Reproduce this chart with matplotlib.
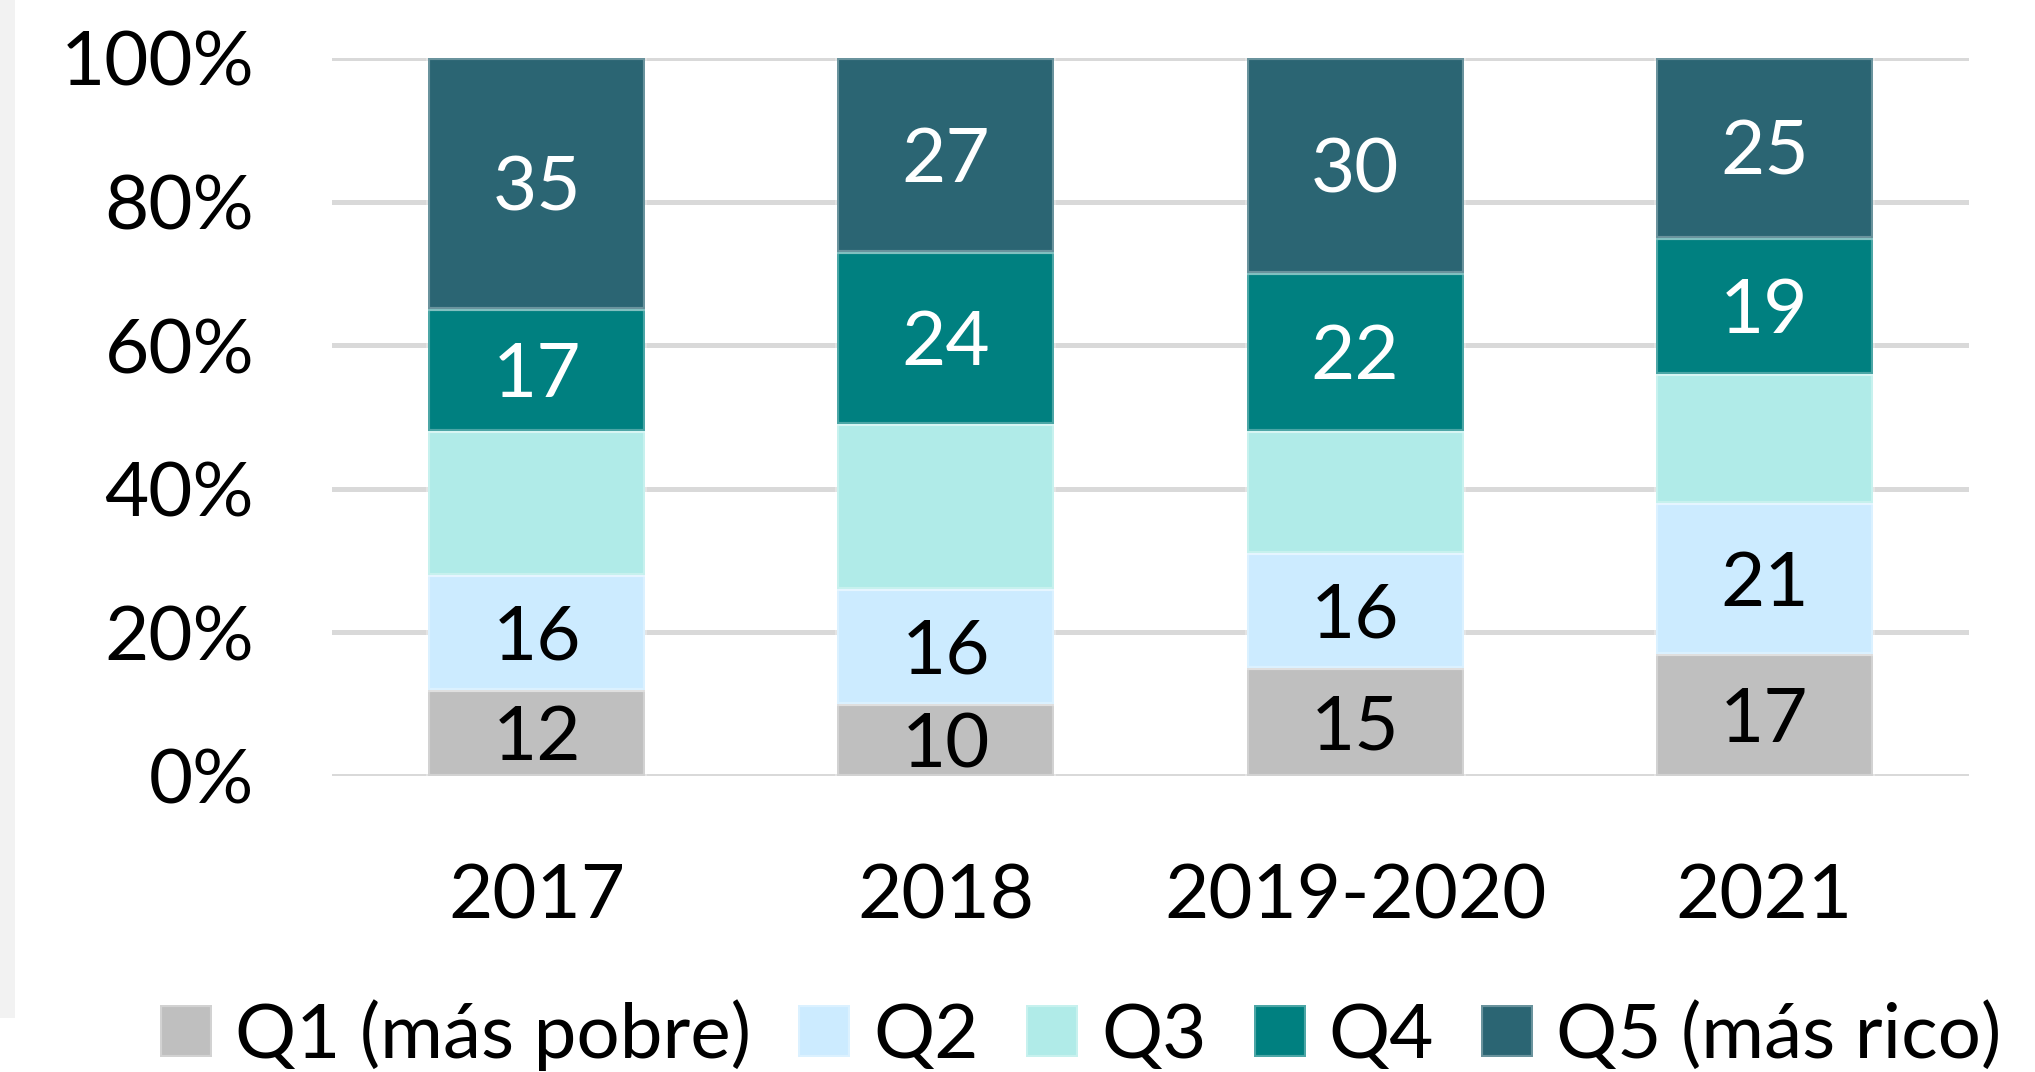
import numpy as np
import matplotlib.pyplot as plt
from matplotlib.patches import Rectangle

plt.rcParams['font.family'] = ['Lato', 'DejaVu Sans']

years = ['2017', '2018', '2019-2020', '2021']
series = ['Q1 (más pobre)', 'Q2', 'Q3', 'Q4', 'Q5 (más rico)']
q1 = [12, 10, 15, 17]
q2 = [16, 16, 16, 21]
q3 = [20, 23, 17, 18]
q4 = [17, 24, 22, 19]
q5 = [35, 27, 30, 25]
shown = [True, True, False, True, True]  # Q3 has no data labels

colors = ['#BFBFBF', '#CCEBFF', '#B0EBE8', '#008080', '#2B6573']
label_colors = ['#000000', '#000000', '#000000', '#FFFFFF', '#FFFFFF']
fs = 55

fig = plt.figure(figsize=(20.35, 10.72), dpi=100)
fig.patches.append(Rectangle((0, 0.05), 15 / 2035, 0.95, transform=fig.transFigure,
                             facecolor='#F2F2F2', edgecolor='none'))
ax = fig.add_axes([332 / 2035, 1 - 776 / 1072, 1637 / 2035, 718 / 1072])

x = np.arange(len(years))
bottom = np.zeros(len(years))
for vals, name, col, lc, show in zip([q1, q2, q3, q4, q5], series, colors, label_colors, shown):
    vals = np.array(vals, dtype=float)
    ax.bar(x, vals, 0.53, bottom=bottom, color=col, label=name,
           edgecolor=(1, 1, 1, 0.3), linewidth=3, zorder=3)
    if show:
        for xi, b, v in zip(x, bottom, vals):
            ax.annotate(str(int(v)), (xi, b + v / 2), xytext=(0, -4), textcoords='offset points',
                        ha='center', va='center', color=lc, fontsize=fs, zorder=4)
    bottom += vals

ax.set_xlim(-0.5, 3.5)
ax.set_ylim(0, 100)
ax.set_yticks([0, 20, 40, 60, 80, 100])
ax.set_yticklabels(['0%', '20%', '40%', '60%', '80%', '100%'])
ax.set_xticks(x)
ax.set_xticklabels(years)
ax.tick_params(axis='both', length=0, labelsize=fs, colors='#000000')
ax.tick_params(axis='y', pad=56)
ax.tick_params(axis='x', pad=62)
ax.yaxis.grid(True, color='#D9D9D9', linewidth=3.6, zorder=0)
ax.set_axisbelow(True)
for s in ax.spines.values():
    s.set_visible(False)

handles, labels = ax.get_legend_handles_labels()
fig.legend(handles, labels, loc='center left', bbox_to_anchor=(160 / 2035, 1 - 1035 / 1072),
           ncol=5, frameon=False, fontsize=fs, handlelength=0.68, handleheight=0.68,
           handletextpad=0.3, columnspacing=0.62, borderpad=0, borderaxespad=0)

fig.savefig('out.png', dpi=100, facecolor='white')
